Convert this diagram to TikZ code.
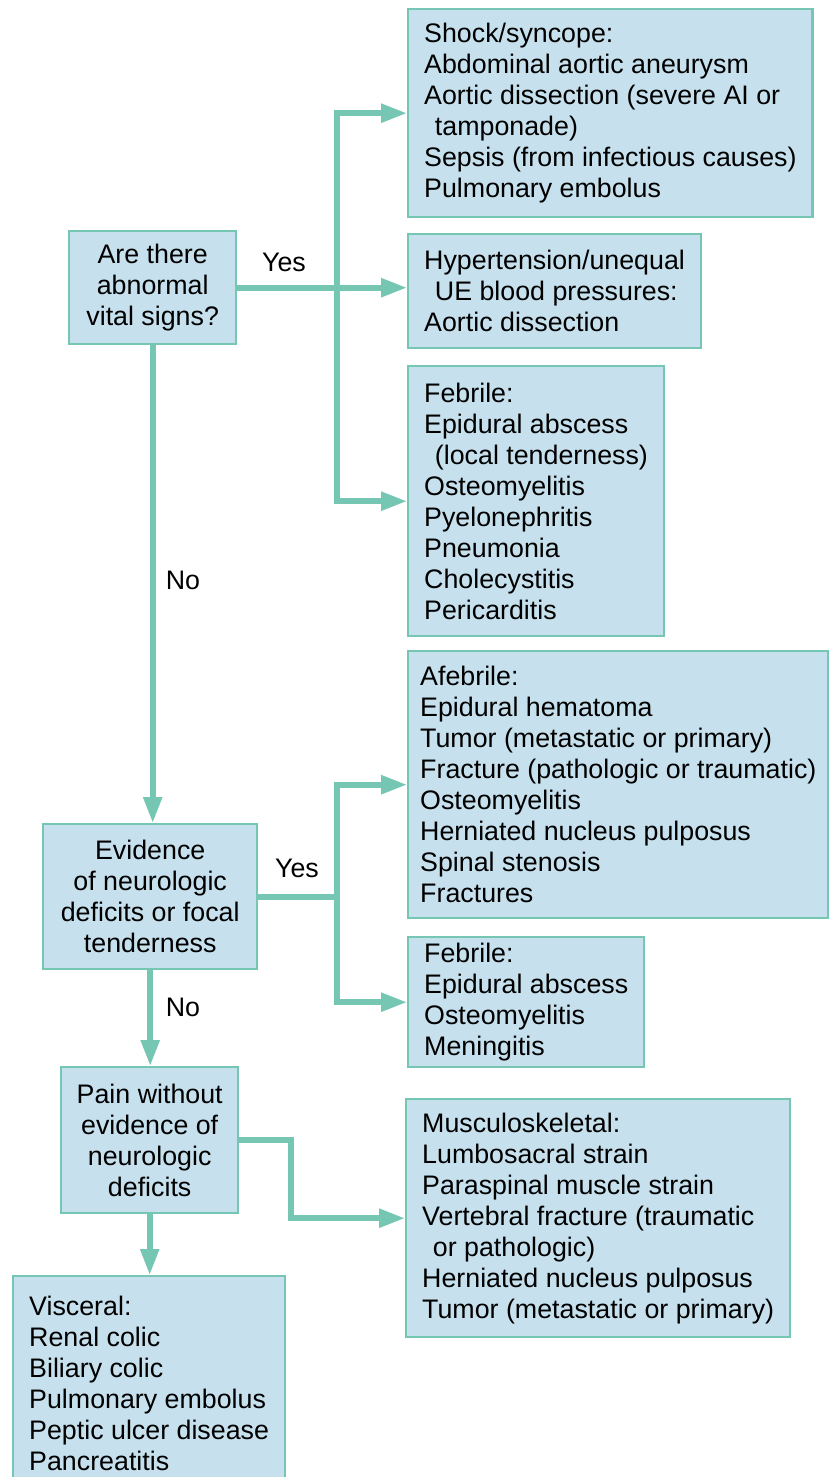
\documentclass[tikz,border=0pt]{standalone}
\usepackage{fontspec}
\setmainfont{Liberation Sans}
\usetikzlibrary{arrows.meta}

\definecolor{flowteal}{RGB}{118,198,180}
\definecolor{boxblue}{RGB}{198,225,237}

\tikzset{
    listbox/.style={draw=flowteal, fill=boxblue, line width=1.2pt, anchor=north west,
        align=left, inner xsep=8pt, inner ysep=0pt, font=\fontsize{13.4}{15.5}\selectfont},
    askbox/.style={draw=flowteal, fill=boxblue, line width=1.2pt, anchor=north west,
        align=center, inner sep=0pt, font=\fontsize{13.4}{15.5}\selectfont},
    flow/.style={draw=flowteal, line width=2.8pt, -{Triangle[length=13pt,width=9pt]}},
    plain/.style={draw=flowteal, line width=2.8pt},
    answer/.style={font=\fontsize{13.4}{16}\selectfont}
}

\begin{document}
\begin{tikzpicture}[
    x=0.5pt,
    y=-0.5pt
]
\useasboundingbox (0,0) rectangle (829,1477);

% Questions
\node[askbox, minimum width=83.5pt, minimum height=56.5pt] (vitals) at (68,230)
    {Are there\\abnormal\\vital signs?};
\node[askbox, minimum width=107pt, minimum height=72.5pt] (neuro) at (42,823)
    {Evidence\\of neurologic\\deficits or focal\\tenderness};
\node[askbox, minimum width=88.5pt, minimum height=73pt] (pain) at (60,1066)
    {Pain without\\evidence of\\neurologic\\deficits};

% Causes
\node[listbox, minimum height=104pt] (shock) at (407,8)
    {Shock/syncope:\\Abdominal aortic aneurysm\\Aortic dissection (severe AI or\\\hspace*{0.4em}tamponade)\\Sepsis (from infectious causes)\\Pulmonary embolus};
\node[listbox, minimum height=57pt] (hyper) at (407,233)
    {Hypertension/unequal\\\hspace*{0.4em}UE blood pressures:\\Aortic dissection};
\node[listbox, minimum height=135pt] (febA) at (407,365)
    {Febrile:\\Epidural abscess\\\hspace*{0.4em}(local tenderness)\\Osteomyelitis\\Pyelonephritis\\Pneumonia\\Cholecystitis\\Pericarditis};
\node[listbox, inner xsep=6pt, minimum height=133.5pt] (afeb) at (407,650)
    {Afebrile:\\Epidural hematoma\\Tumor (metastatic or primary)\\Fracture (pathologic or traumatic)\\Osteomyelitis\\Herniated nucleus pulposus\\Spinal stenosis\\Fractures};
\node[listbox, minimum height=65pt] (febB) at (407,936)
    {Febrile:\\Epidural abscess\\Osteomyelitis\\Meningitis};
\node[listbox, minimum height=119pt] (musc) at (405,1098)
    {Musculoskeletal:\\Lumbosacral strain\\Paraspinal muscle strain\\Vertebral fracture (traumatic\\\hspace*{0.4em}or pathologic)\\Herniated nucleus pulposus\\Tumor (metastatic or primary)};
\node[listbox, minimum height=107.5pt] (visc) at (12,1275)
    {Visceral:\\Renal colic\\Biliary colic\\Pulmonary embolus\\Peptic ulcer disease\\Pancreatitis};

% Branch lines
\coordinate (trunkA) at (337,0);
\coordinate (trunkB) at (291,0);

\draw[flow] (vitals.east) -- (vitals.east -| hyper.west);
\draw[flow] (vitals.east -| trunkA) |- (shock.west);
\draw[flow] (vitals.east -| trunkA) |- (febA.west);
\draw[flow] (vitals.south) -- (vitals.south |- neuro.north);

\draw[plain] (neuro.east) -- (neuro.east -| trunkA);
\draw[flow] (neuro.east -| trunkA) |- (afeb.west);
\draw[flow] (neuro.east -| trunkA) |- (febB.west);
\draw[flow] (neuro.south) -- (neuro.south |- pain.north);

\draw[flow] (pain.east) -- (pain.east -| trunkB) |- (musc.west);
\draw[flow] (pain.south) -- (pain.south |- visc.north);

% Answers
\node[answer] (yesA) at (284,262) {Yes};
\node[answer] (noA) at (183,580) {No};
\node[answer] (yesB) at (297,868) {Yes};
\node[answer] (noB) at (183,1007) {No};

\end{tikzpicture}
\end{document}
